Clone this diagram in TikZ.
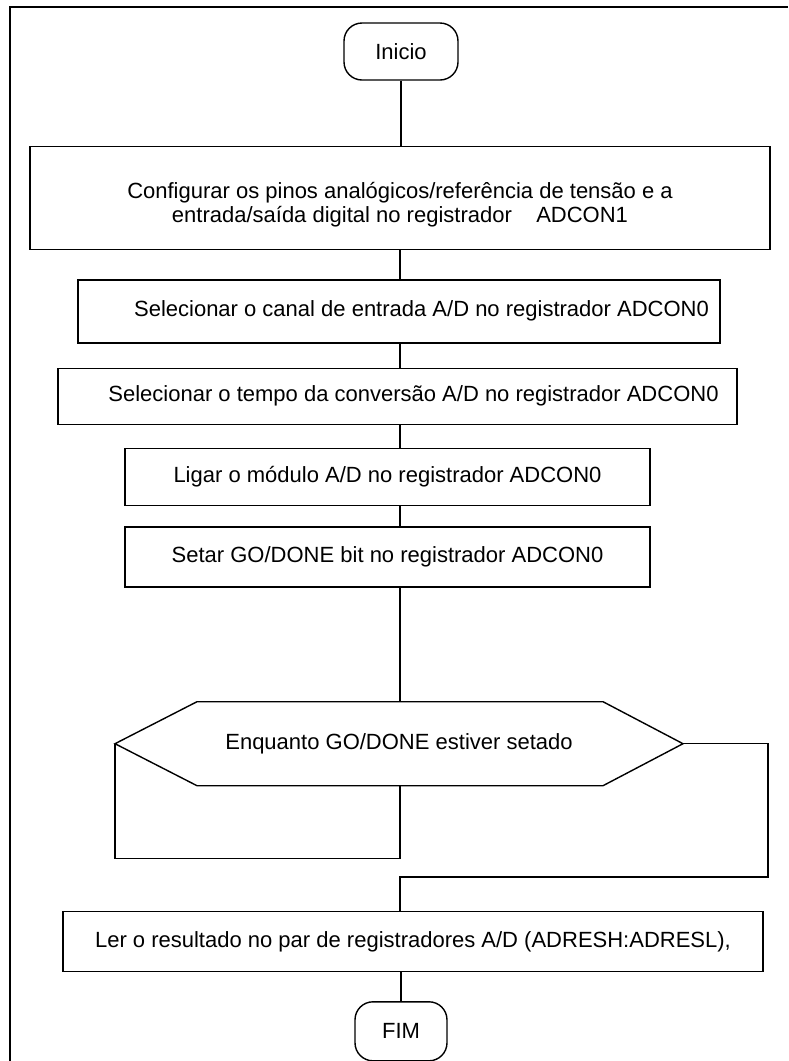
\documentclass[tikz,border=0pt]{standalone}
\usepackage{fontspec}
\setmainfont{Liberation Sans}
\usetikzlibrary{positioning}

\tikzset{
  procbox/.style={draw, line width=1.4pt, rectangle, align=center, inner sep=0pt,
    font=\fontsize{22}{24}\selectfont},
  terminal/.style={procbox, rounded corners=18pt},
  flow/.style={line width=1.4pt},
}

\begin{document}
\begin{tikzpicture}[x=1pt,y=-1pt]
  \useasboundingbox (0,0) rectangle (788,1061);
  % moldura
  \draw[line width=2.6pt] (10,1061) -- (10,7) -- (788,7);

  \node[terminal, minimum width=114pt, minimum height=57pt] (inicio) at (401,51.5) {Inicio};
  \node[procbox, below=65pt of inicio, xshift=-1pt, minimum width=740pt, minimum height=103pt] (config)
    {\rule{0pt}{30pt}Configurar os pinos analógicos/referência de tensão e a\\
     entrada/saída digital no registrador \ \ \ ADCON1};
  \node[procbox, below=29pt of config, xshift=-1pt, minimum width=642pt, minimum height=63pt] (canal)
    {\hspace*{45pt}Selecionar o canal de entrada A/D no registrador ADCON0};
  \node[procbox, below=24pt of canal, xshift=-1.5pt, minimum width=679pt, minimum height=56pt] (tempo)
    {\hspace*{32pt}Selecionar o tempo da conversão A/D no registrador ADCON0};
  \node[procbox, below=23pt of tempo, xshift=-10pt, minimum width=525pt, minimum height=57pt] (ligar)
    {Ligar o módulo A/D no registrador ADCON0};
  \node[procbox, below=20pt of ligar, minimum width=525pt, minimum height=60pt] (setar)
    {Setar GO/DONE bit no registrador ADCON0};
  \node[procbox, draw=none, outer sep=0pt, below=114pt of setar, xshift=11.5pt,
    minimum width=568pt, minimum height=84pt] (enquanto)
    {Enquanto GO/DONE estiver setado};
  \node[procbox, below=125pt of enquanto, xshift=14pt, minimum width=700pt, minimum height=60pt] (ler)
    {Ler o resultado no par de registradores A/D (ADRESH:ADRESL),};
  \node[terminal, below=29pt of ler, xshift=-12pt, minimum width=92pt, minimum height=59pt] (fim) {FIM};

  % contorno do laco
  \draw[flow] (enquanto.west) -- ([xshift=82pt]enquanto.north west) -- ([xshift=-80pt]enquanto.north east)
    -- (enquanto.east) -- ([xshift=-80pt]enquanto.south east) -- ([xshift=82pt]enquanto.south west) -- cycle;

  \coordinate (juncao) at (400,877);

  \draw[flow] (inicio.south) -- (config.north -| inicio.south);
  \draw[flow] (config.south) -- (canal.north -| config.south);
  \draw[flow] (canal.south -| config.south) -- (tempo.north -| config.south);
  \draw[flow] (tempo.south -| config.south) -- (ligar.north -| config.south);
  \draw[flow] (ligar.south -| config.south) -- (setar.north -| config.south);
  \draw[flow] (setar.south -| config.south) -- (enquanto.north -| config.south);
  \draw[flow] (enquanto.south -| config.south) -- ++(0,73) -| (enquanto.west);
  \draw[flow] (enquanto.east) -- ++(85,0) |- (juncao) -- (ler.north -| juncao);
  \draw[flow] (ler.south -| fim.north) -- (fim.north);
\end{tikzpicture}
\end{document}
